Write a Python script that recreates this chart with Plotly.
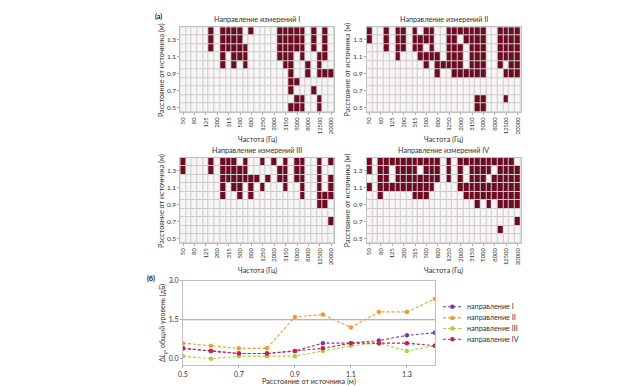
import plotly.graph_objects as go

W, H = 635, 386

# ---------------- data ----------------
freqs = [50, 63, 80, 100, 125, 160, 200, 250, 315, 400, 500, 630, 800, 1000,
         1250, 1600, 2000, 2500, 3150, 4000, 5000, 6300, 8000, 10000, 12500, 16000, 20000]
freq_ticks = ["50", "80", "125", "200", "315", "500", "800", "1250", "2000",
              "3150", "5000", "8000", "12500", "20000"]
distances = [0.5, 0.6, 0.7, 0.8, 0.9, 1.0, 1.1, 1.2, 1.3, 1.4]
dist_ticks = [0.5, 0.7, 0.9, 1.1, 1.3]

# indices of dark (significant) frequency bands, one list per distance 0.5 ... 1.4
dark_I = [
    [19, 20, 21, 24],
    [20, 21, 24],
    [19, 23],
    [19, 20],
    [19, 22, 24, 25, 26],
    [7, 9, 11, 18, 19, 22, 24],
    [7, 9, 10, 11, 17, 18, 19, 21, 24, 25],
    [5, 7, 8, 9, 10, 11, 17, 18, 19, 20, 21, 23, 25],
    [5, 7, 8, 9, 10, 17, 18, 19, 20, 21, 23, 25],
    [5, 7, 8, 9, 10, 12, 17, 18, 19, 20, 21, 23, 25],
]
dark_II = [
    [19, 20],
    [19, 20, 24],
    [],
    [],
    [12, 15, 16, 17, 18, 19, 20, 24, 25, 26],
    [10, 12, 13, 14, 15, 16, 18, 19, 20, 23, 25, 26],
    [5, 9, 10, 11, 12, 14, 15, 16, 18, 19, 20, 23, 24, 25, 26],
    [3, 5, 6, 8, 9, 11, 14, 15, 16, 18, 19, 20, 23, 24, 25, 26],
    [0, 3, 5, 6, 8, 9, 10, 11, 14, 15, 17, 18, 19, 20, 23, 24, 25, 26],
    [0, 3, 5, 6, 8, 10, 11, 14, 15, 16, 17, 18, 19, 20, 23, 24, 25, 26],
]
dark_III = [
    [],
    [],
    [26],
    [],
    [24, 25],
    [7, 10, 12, 21, 24, 25, 26],
    [7, 9, 10, 12, 14, 18, 21, 24, 26],
    [7, 8, 9, 10, 11, 12, 13, 15, 17, 18, 20, 21, 24, 26],
    [0, 5, 7, 8, 9, 10, 11, 17, 18, 20, 21, 24],
    [0, 5, 7, 8, 9, 11, 14, 16, 18, 20, 21, 24, 26],
]
dark_IV = [
    [],
    [23],
    [26],
    [],
    [19, 21, 23, 24, 25, 26],
    [2, 8, 9, 10, 17, 18, 19, 20, 21, 22, 23, 24, 25, 26],
    [0, 2, 3, 4, 5, 6, 7, 8, 9, 10, 11, 16, 17, 18, 19, 20, 21, 22, 23, 24, 25, 26],
    [2, 3, 5, 6, 7, 8, 9, 10, 11, 12, 14, 16, 18, 19, 20, 22, 23, 24, 25, 26],
    [0, 2, 3, 5, 6, 7, 8, 10, 11, 12, 14, 16, 18, 19, 20, 21, 23, 24, 25, 26],
    [0, 2, 3, 4, 5, 6, 7, 8, 9, 10, 11, 12, 14, 16, 17, 18, 19, 20, 21, 22, 23, 24, 25],
]
panel_titles = ["Направление измерений I", "Направление измерений II",
                "Направление измерений III", "Направление измерений IV"]

line_dist = [0.5, 0.6, 0.7, 0.8, 0.9, 1.0, 1.1, 1.2, 1.3, 1.4]
dir_I = [0.4, 0.3, 0.2, 0.2, 0.3, 0.6, 0.6, 0.7, 0.9, 1.0]
dir_II = [0.6, 0.5, 0.4, 0.4, 1.6, 1.7, 1.2, 1.8, 1.8, 2.3]
dir_III = [0.1, 0.0, 0.1, 0.1, 0.1, 0.3, 0.5, 0.6, 0.3, 0.5]
dir_IV = [0.4, 0.3, 0.2, 0.2, 0.3, 0.4, 0.6, 0.6, 0.6, 0.5]
line_names = ["направление I", "направление II", "направление III", "направление IV"]
line_tick = [0.5, 0.7, 0.9, 1.1, 1.3]
level_ticks = [0.0, 1.5, 3.0]

# ---------------- styling ----------------
FONT = "Lato"
DARK = "#6c0b21"
LIGHT = "#f8f5f6"
GRID = "#cdcacb"
TXT = "#333333"
line_colors = ["#7d3a9b", "#f29a2e", "#a5d23d", "#cc1d4e"]
TITLE_SIZE = 7.2
TICK_SIZE = 6.5
HEAT_XTICK_SIZE = 5.8


def xd(a, b):
    return [a / W, b / W]


def yd(top, bottom):
    return [1 - bottom / H, 1 - top / H]


heat_boxes = [
    (176.7, 331.7, 22.5, 108.5),
    (364.6, 519.7, 22.5, 108.5),
    (176.7, 331.7, 155.0, 241.0),
    (364.6, 519.7, 155.0, 241.0),
]
line_box = (179.3, 433.3, 279.3, 365.0)

fig = go.Figure()
cats = [str(f) for f in freqs]
layout = {}
annotations = []
shapes = []

for k, dark in enumerate([dark_I, dark_II, dark_III, dark_IV]):
    n = k + 1
    xs = "" if n == 1 else str(n)
    z = [[1 if i in row else 0 for i in range(len(freqs))] for row in dark]
    fig.add_trace(go.Heatmap(
        x=cats, y=distances, z=z, zmin=0, zmax=1,
        colorscale=[[0, LIGHT], [1, DARK]], showscale=False,
        xgap=1, ygap=1, hoverinfo="skip",
        xaxis="x" + xs, yaxis="y" + xs,
    ))
    x0, x1, y0, y1 = heat_boxes[k]
    layout["xaxis" + xs] = dict(
        domain=xd(x0, x1), anchor="y" + xs, type="category",
        tickmode="array", tickvals=freq_ticks, ticktext=freq_ticks,
        tickangle=-90, tickfont=dict(size=HEAT_XTICK_SIZE, color=TXT, family=FONT),
        ticks="outside", ticklen=2, tickcolor="#aaa", showline=True,
        linecolor="#c0c0c0", linewidth=1, mirror=True, showgrid=False,
        zeroline=False, fixedrange=True,
    )
    layout["yaxis" + xs] = dict(
        domain=yd(y0, y1), anchor="x" + xs, range=[0.45, 1.45],
        tickmode="array", tickvals=dist_ticks, ticktext=[f"{v:.1f}" for v in dist_ticks],
        tickfont=dict(size=TICK_SIZE, color=TXT, family=FONT),
        ticks="outside", ticklen=2, tickcolor="#aaa", showline=True,
        linecolor="#c0c0c0", linewidth=1, mirror=True, showgrid=False,
        zeroline=False, fixedrange=True,
    )
    cx = (x0 + x1) / 2
    annotations.append(dict(text=panel_titles[k], x=cx / W, y=1 - (y0 - 8) / H,
                            xref="paper", yref="paper", showarrow=False,
                            xanchor="center", yanchor="middle",
                            font=dict(size=TITLE_SIZE, color=TXT, family=FONT)))
    annotations.append(dict(text="Частота (Гц)", x=cx / W, y=1 - (y1 + 27.5) / H,
                            xref="paper", yref="paper", showarrow=False,
                            xanchor="center", yanchor="middle",
                            font=dict(size=TITLE_SIZE, color=TXT, family=FONT)))
    annotations.append(dict(text="Расстояние от источника (м)", x=(x0 - 19) / W,
                            y=1 - ((y0 + y1) / 2) / H, textangle=-90,
                            xref="paper", yref="paper", showarrow=False,
                            xanchor="center", yanchor="middle",
                            font=dict(size=TITLE_SIZE, color=TXT, family=FONT)))

# ---------------- line chart ----------------
for name, vals, col in zip(line_names, [dir_I, dir_II, dir_III, dir_IV], line_colors):
    fig.add_trace(go.Scatter(
        x=line_dist, y=vals, name=name, mode="lines+markers",
        line=dict(color=col, width=1.1, dash="3px,2px"),
        marker=dict(color=col, size=4.5, symbol="circle"),
        xaxis="x5", yaxis="y5", showlegend=False, hoverinfo="skip",
    ))

lx0, lx1, ly0, ly1 = line_box
layout["xaxis5"] = dict(
    domain=xd(lx0, lx1), anchor="y5", range=[0.5, 1.4],
    tickmode="array", tickvals=line_tick, ticktext=[f"{v:.1f}" for v in line_tick],
    tickfont=dict(size=TICK_SIZE + 0.5, color=TXT, family=FONT),
    ticks="outside", ticklen=2, tickcolor="#aaa", showline=True,
    linecolor="#c0c0c0", linewidth=1, mirror=True, showgrid=False, zeroline=False,
)
layout["yaxis5"] = dict(
    domain=yd(ly0, ly1), anchor="x5", range=[-0.25, 3.0],
    tickmode="array", tickvals=level_ticks, ticktext=[f"{v:.1f}" for v in level_ticks],
    tickfont=dict(size=TICK_SIZE + 0.5, color=TXT, family=FONT),
    ticks="outside", ticklen=2, tickcolor="#aaa", showline=True,
    linecolor="#c0c0c0", linewidth=1, mirror=True, showgrid=False, zeroline=False,
)
shapes.append(dict(type="rect", xref="x5 domain", yref="y5 domain", x0=0, x1=1, y0=0, y1=1,
                   fillcolor="white", line=dict(width=0), layer="below"))
shapes.append(dict(type="line", xref="x5 domain", yref="y5", x0=0, x1=1,
                   y0=level_ticks[1], y1=level_ticks[1],
                   line=dict(color="#a0a0a0", width=1), layer="below"))

annotations.append(dict(text="Расстояние от источника (м)", x=((lx0 + lx1) / 2) / W,
                        y=1 - (ly1 + 16.5) / H, xref="paper", yref="paper", showarrow=False,
                        xanchor="center", yanchor="middle",
                        font=dict(size=TITLE_SIZE, color=TXT, family=FONT)))
annotations.append(dict(text="Δ<i>L</i><sub><i>p</i></sub>, общий уровень (дБ)",
                        x=(lx0 - 20) / W, y=1 - ((ly0 + ly1) / 2) / H, textangle=-90,
                        xref="paper", yref="paper", showarrow=False,
                        xanchor="center", yanchor="middle",
                        font=dict(size=7, color=TXT, family=FONT)))

# manual compact legend
leg_y = [305.7, 317.0, 327.8, 338.6]
for name, col, yy in zip(line_names, line_colors, leg_y):
    shapes.append(dict(type="line", xref="paper", yref="paper",
                       x0=441.5 / W, x1=460 / W, y0=1 - yy / H, y1=1 - yy / H,
                       line=dict(color=col, width=1.1, dash="3px,2px")))
    shapes.append(dict(type="circle", xref="paper", yref="paper",
                       x0=448.7 / W, x1=453.2 / W, y0=1 - (yy + 2.25) / H, y1=1 - (yy - 2.25) / H,
                       fillcolor=col, line=dict(color=col, width=0)))
    annotations.append(dict(text=name, x=463.5 / W, y=1 - yy / H, xref="paper", yref="paper",
                            showarrow=False, xanchor="left", yanchor="middle",
                            font=dict(size=TITLE_SIZE, color=TXT, family=FONT)))

# panel labels
annotations.append(dict(text="<b>(a)</b>", x=149 / W, y=1 - 12 / H, xref="paper", yref="paper",
                        showarrow=False, xanchor="left", yanchor="middle",
                        font=dict(size=TITLE_SIZE, color="#111", family=FONT)))
annotations.append(dict(text="<b>(б)</b>", x=141 / W, y=1 - 277 / H, xref="paper", yref="paper",
                        showarrow=False, xanchor="left", yanchor="middle",
                        font=dict(size=TITLE_SIZE, color="#111", family=FONT)))

fig.update_layout(
    width=W, height=H, margin=dict(l=0, r=0, t=0, b=0),
    paper_bgcolor="white", plot_bgcolor=GRID,
    font=dict(family=FONT, size=7, color=TXT),
    showlegend=False, annotations=annotations, shapes=shapes,
    **layout,
)

fig.write_html(
    "out.html",
    config={"displayModeBar": False, "staticPlot": True},
    post_script="document.body.style.margin='0';document.body.style.overflow='hidden';",
)
